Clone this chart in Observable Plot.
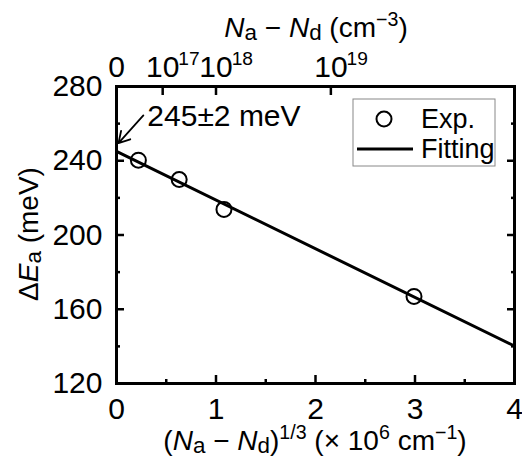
<!DOCTYPE html>
<html>
<head>
<meta charset="utf-8">
<script src="https://cdn.jsdelivr.net/npm/d3@7"></script>
<script src="https://cdn.jsdelivr.net/npm/@observablehq/plot@0.6"></script>
<style>
  html, body { margin: 0; padding: 0; background: white; }
  svg { display: block; }
</style>
</head>
<body>
<div id="chart"></div>
<script>
// Experimental points: (Na - Nd)^(1/3) in 10^6 cm^-1, ΔEa in meV
const expX = [0.22, 0.63, 1.08, 2.99];
const expY = [240.3, 229.9, 213.8, 166.9];
// Linear fit end points
const fitX = [0, 4];
const fitY = [245, 140.2];
// Axis ticks
const xMajor = [0, 1, 2, 3, 4];
const xMinor = [0.5, 1.5, 2.5, 3.5];
const yMajor = [120, 160, 200, 240, 280];
const yMinor = [140, 180, 220, 260];
// Top axis: concentrations (cm^-3) and their labels
const topConc = [0, 1e17, 1e18, 1e19];
const topLabels = ["0", "10^17", "10^18", "10^19"];
// Annotation
const annText = ["245±2 meV"];
const annX = [0.31];
const annY = [264];
const arrowFrom = [0.27, 264.4];
const arrowTo = [0.02, 249.5];
// Legend entries
const legendLabels = ["Exp.", "Fitting"];

const FONT = "Liberation Sans, Arial, Helvetica, sans-serif";
const FS = 28;     // axis titles
const FT = 30;     // tick labels / annotation

const topPos = topConc.map(c => Math.cbrt(c) / 1e6);
const topMap = new Map(topPos.map((p, i) => [p, topLabels[i]]));

const expData = expX.map((x, i) => ({x, y: expY[i]}));
const fitData = fitX.map((x, i) => ({x, y: fitY[i]}));

const chart = Plot.plot({
  width: 522,
  height: 459,
  marginLeft: 116,
  marginRight: 8,
  marginTop: 86,
  marginBottom: 76,
  style: {fontFamily: FONT, fontSize: FT + "px", color: "black", background: "white"},
  x: {domain: [0, 4]},
  y: {domain: [120, 280]},
  marks: [
    Plot.frame({strokeWidth: 3}),
    // bottom axis
    Plot.axisX(xMajor, {anchor: "bottom", tickSize: -8, tickPadding: 22, strokeWidth: 2.5, label: null, tickFormat: d => String(d)}),
    Plot.axisX(xMinor, {anchor: "bottom", tickSize: -4, strokeWidth: 2.5, label: null, tickFormat: () => ""}),
    // top axis
    Plot.axisX(topPos, {anchor: "top", tickSize: -8, tickPadding: 18, strokeWidth: 2.5, label: null, tickFormat: d => topMap.get(d)}),
    // left axis
    Plot.axisY(yMajor, {anchor: "left", tickSize: -8, tickPadding: 22, strokeWidth: 2.5, label: null, tickFormat: d => String(d)}),
    Plot.axisY(yMinor, {anchor: "left", tickSize: -4, strokeWidth: 2.5, label: null, tickFormat: () => ""}),
    // right axis
    Plot.axisY(yMajor, {anchor: "right", tickSize: -8, strokeWidth: 2.5, label: null, tickFormat: () => ""}),
    Plot.axisY(yMinor, {anchor: "right", tickSize: -4, strokeWidth: 2.5, label: null, tickFormat: () => ""}),
    // fit line
    Plot.line(fitData, {x: "x", y: "y", stroke: "black", strokeWidth: 3}),
    // experimental points
    Plot.dot(expData, {x: "x", y: "y", r: 7.5, stroke: "black", strokeWidth: 2, fill: "none"}),
    // annotation
    Plot.arrow([0], {x1: () => arrowFrom[0], y1: () => arrowFrom[1], x2: () => arrowTo[0], y2: () => arrowTo[1], stroke: "black", strokeWidth: 1.8, headLength: 14}),
    Plot.text(annText, {x: (d, i) => annX[i], y: (d, i) => annY[i], text: d => d, textAnchor: "start", fontSize: FT})
  ]
});

document.getElementById("chart").appendChild(chart);
const svg = d3.select(chart);

// Rich text helper (italic, sub, sup)
function rich(textEl, parts, size) {
  let shift = 0;
  for (const p of parts) {
    const ts = textEl.append("tspan").text(p.t);
    let target = 0;
    if (p.k === "sub") { ts.attr("font-size", size * 0.8); target = size * 0.12; }
    else if (p.k === "sup") { ts.attr("font-size", size * 0.7); target = -size * 0.38; }
    if (p.i) ts.attr("font-style", "italic");
    if (target !== shift) { ts.attr("dy", target - shift); shift = target; }
  }
}

// Superscript tick labels on the top axis
svg.selectAll("text").each(function() {
  const el = d3.select(this);
  const s = el.text();
  if (s.includes("^")) {
    const [base, sup] = s.split("^");
    el.text("");
    el.attr("text-anchor", "start");
    el.append("tspan").attr("dx", "-0.556em").text(base);
    el.append("tspan").attr("font-size", FT * 0.64).attr("dx", -1).attr("dy", -FT * 0.38).text(sup);
  }
});

// Axis titles
const tTop = svg.append("text").attr("x", 316).attr("y", 37).attr("text-anchor", "middle")
  .attr("font-family", FONT).attr("font-size", FS).attr("fill", "black");
rich(tTop, [{t: "N", i: 1}, {t: "a", k: "sub"}, {t: " − "}, {t: "N", i: 1}, {t: "d", k: "sub"}, {t: " (cm"}, {t: "−3", k: "sup"}, {t: ")"}], FS);

const tBot = svg.append("text").attr("x", 315).attr("y", 450).attr("text-anchor", "middle")
  .attr("font-family", FONT).attr("font-size", FS).attr("fill", "black");
rich(tBot, [{t: "("}, {t: "N", i: 1}, {t: "a", k: "sub"}, {t: " − "}, {t: "N", i: 1}, {t: "d", k: "sub"}, {t: ")"}, {t: "1/3", k: "sup"}, {t: " (× 10"}, {t: "6", k: "sup"}, {t: " cm"}, {t: "−1", k: "sup"}, {t: ")"}], FS);

const tY = svg.append("text").attr("transform", "translate(38,234) rotate(-90)").attr("text-anchor", "middle")
  .attr("font-family", FONT).attr("font-size", FS).attr("fill", "black");
rich(tY, [{t: "Δ"}, {t: "E", i: 1}, {t: "a", k: "sub"}, {t: " (meV)"}], FS);

// Legend
const lg = svg.append("g").attr("font-family", FONT).attr("font-size", 27).attr("fill", "black").attr("text-anchor", "start");
lg.append("rect").attr("x", 353).attr("y", 99).attr("width", 142).attr("height", 67)
  .attr("fill", "white").attr("stroke", "#888").attr("stroke-width", 1);
lg.append("circle").attr("cx", 384).attr("cy", 119).attr("r", 7.5).attr("fill", "none").attr("stroke", "black").attr("stroke-width", 2);
lg.append("line").attr("x1", 357).attr("x2", 413).attr("y1", 149).attr("y2", 149).attr("stroke", "black").attr("stroke-width", 3);
lg.append("text").attr("x", 421).attr("y", 128).attr("text-anchor", "start").text(legendLabels[0]);
lg.append("text").attr("x", 421).attr("y", 158).attr("text-anchor", "start").text(legendLabels[1]);
</script>
</body>
</html>
